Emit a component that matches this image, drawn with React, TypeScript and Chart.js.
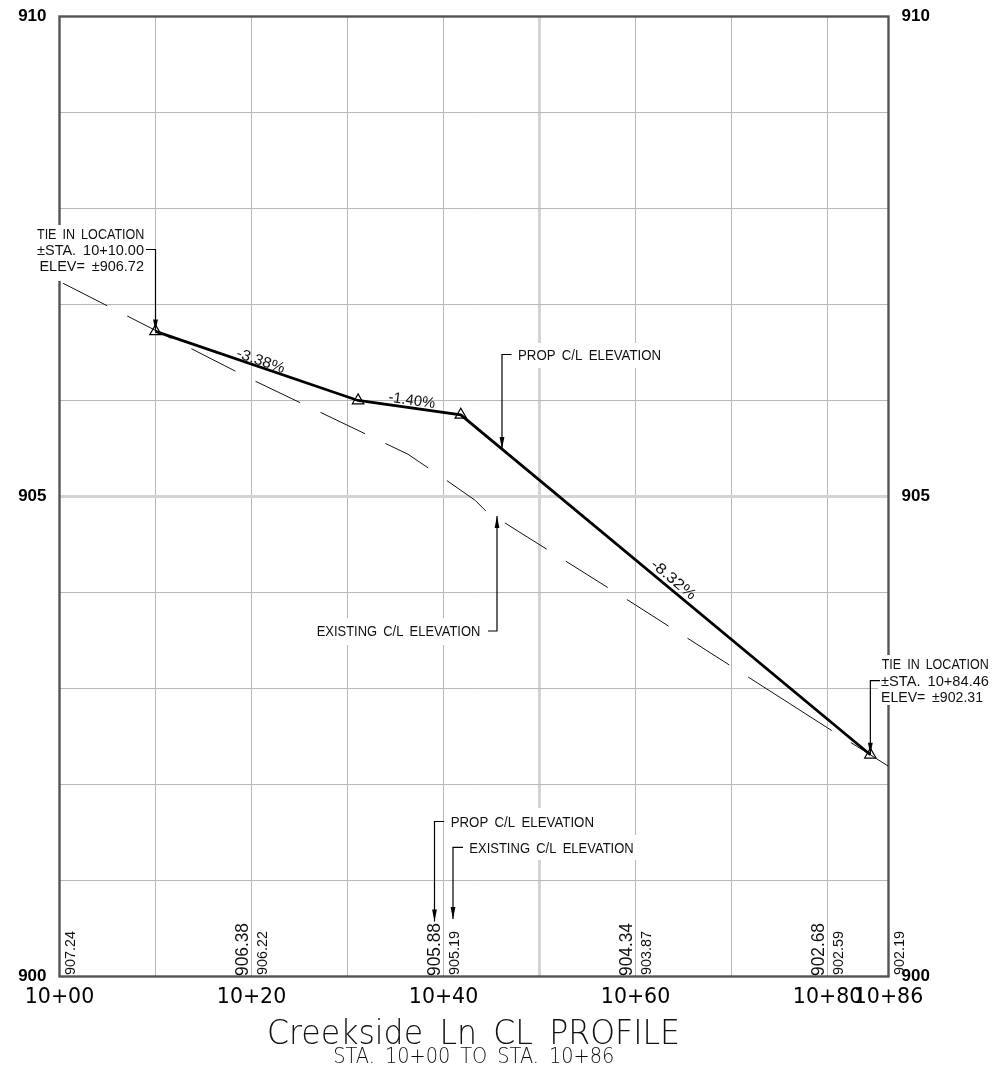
import React, { useEffect, useRef } from "react";
import { Chart, registerables } from "chart.js";

Chart.register(...registerables);

// ---- data ----
const stationGrid = [0, 10, 20, 30, 40, 50, 60, 70, 80, 86.35];
const stationLabels = ["10+00", "", "10+20", "", "10+40", "", "10+60", "", "10+80", "10+86"];
const elevationGrid = [900, 901, 902, 903, 904, 905, 906, 907, 908, 909, 910];
const elevationLabels = ["900", "", "", "", "", "905", "", "", "", "", "910"];

const propStations = [10, 31.1, 41.8, 84.46];
const propElevations = [906.72, 906.0, 905.85, 902.31];

// the existing ground line is two runs: its dash pattern restarts near station 76
const existingStationsA = [0, 20, 36.3, 40, 43.3, 44.4, 60, 76.1];
const existingElevationsA = [907.24, 906.22, 905.44, 905.19, 904.96, 904.85, 903.87, 902.84];
const existingStationsB = [76.1, 80, 86.35];
const existingElevationsB = [902.84, 902.59, 902.19];

const propTableStations = [20, 40, 60, 80];
const propTableValues = ["906.38", "905.88", "904.34", "902.68"];
const existingTableStations = [0, 20, 40, 60, 80, 86.35];
const existingTableValues = ["907.24", "906.22", "905.19", "903.87", "902.59", "902.19"];

const gradeLabels = ["-3.38%", "-1.40%", "-8.32%"];

const TITLE = "Creekside Ln CL PROFILE";
const SUBTITLE = "STA. 10+00 TO STA. 10+86";

// ---- drawing helpers ----
const FONT = "'Liberation Sans'";
const INK = "#111";

type Ctx = CanvasRenderingContext2D;

function fitText(ctx: Ctx, text: string, x: number, y: number, width: number, size: number, rot = 0, font = `${size}px ${FONT}`) {
  ctx.save();
  ctx.font = font;
  (ctx as any).wordSpacing = `${size * 0.2}px`;
  ctx.textAlign = "left";
  ctx.textBaseline = "alphabetic";
  ctx.fillStyle = INK;
  const m = ctx.measureText(text).width;
  ctx.translate(x, y);
  ctx.rotate(rot);
  ctx.scale(width / m, 1);
  ctx.fillText(text, -m / 2, size * 0.36);
  ctx.restore();
}

function leader(ctx: Ctx, pts: [number, number][]) {
  ctx.save();
  ctx.strokeStyle = "#000";
  ctx.lineWidth = 1.2;
  ctx.beginPath();
  pts.forEach((p, i) => (i ? ctx.lineTo(p[0], p[1]) : ctx.moveTo(p[0], p[1])));
  ctx.stroke();
  const [tx, ty] = pts[pts.length - 1];
  const [, py] = pts[pts.length - 2];
  const dir = ty > py ? 1 : -1;
  ctx.fillStyle = "#000";
  ctx.beginPath();
  ctx.moveTo(tx, ty);
  ctx.lineTo(tx - 2.4, ty - dir * 12);
  ctx.lineTo(tx + 2.4, ty - dir * 12);
  ctx.closePath();
  ctx.fill();
  ctx.restore();
}

const masks = [
  [33, 225, 115, 56],
  [514, 343, 151, 25],
  [312, 618, 172, 27],
  [447, 808, 153, 27],
  [465, 835, 173, 25],
  [878, 655, 114, 50],
];

const profilePlugin = {
  id: "profile",
  beforeDatasetsDraw(chart: any) {
    const { ctx, chartArea: a } = chart;
    ctx.save();
    ctx.strokeStyle = "#555";
    ctx.lineWidth = 2.4;
    ctx.strokeRect(a.left, a.top, a.right - a.left, a.bottom - a.top);
    ctx.fillStyle = "#fff";
    masks.forEach((m) => ctx.fillRect(m[0], m[1], m[2], m[3]));
    ctx.restore();
  },
  afterDatasetsDraw(chart: any) {
    const { ctx, scales } = chart;
    const X = (v: number) => scales.x.getPixelForValue(v);
    const Y = (v: number) => scales.y.getPixelForValue(v);
    const bottom = chart.chartArea.bottom;

    // rotated table values along the foot of the plot
    propTableStations.forEach((s, i) => {
      fitText(ctx, propTableValues[i], X(s) - 10, bottom - 27, 53, 18, -Math.PI / 2);
    });
    existingTableStations.forEach((s, i) => {
      fitText(ctx, existingTableValues[i], X(s) + 10, bottom - 23.5, 44, 15, -Math.PI / 2);
    });

    // grade labels, turned to the slope of their segment
    const gradePos: [number, number, number][] = [[261, 360, 50], [412, 399.5, 47], [674, 579, 54]];
    gradeLabels.forEach((t, i) => {
      const dx = X(propStations[i + 1]) - X(propStations[i]);
      const dy = Y(propElevations[i + 1]) - Y(propElevations[i]);
      fitText(ctx, t, gradePos[i][0], gradePos[i][1], gradePos[i][2], 15, Math.atan2(dy, dx));
    });

    // left tie-in note
    fitText(ctx, "TIE IN LOCATION", 90.7, 233.5, 107.5, 15);
    fitText(ctx, "±STA. 10+10.00", 90.5, 249.5, 107, 15);
    fitText(ctx, "ELEV= ±906.72", 91.7, 266, 104.5, 15);
    leader(ctx, [[146, 249.5], [X(propStations[0]), 249.5], [X(propStations[0]), Y(propElevations[0])]]);

    // right tie-in note
    fitText(ctx, "TIE IN LOCATION", 935.2, 664, 107, 15);
    fitText(ctx, "±STA. 10+84.46", 935, 680.7, 108, 15);
    fitText(ctx, "ELEV= ±902.31", 932, 697, 102, 15);
    leader(ctx, [[880, 680.7], [X(propStations[3]), 680.7], [X(propStations[3]), Y(propElevations[3])]]);

    // mid-plot notes
    fitText(ctx, "PROP C/L ELEVATION", 589.5, 355, 143, 15);
    leader(ctx, [[511.5, 354.5], [502, 354.5], [502, 449]]);
    fitText(ctx, "EXISTING C/L ELEVATION", 398.5, 631, 163.6, 15);
    leader(ctx, [[488, 631], [497, 631], [497, 516]]);

    // notes above the table
    fitText(ctx, "PROP C/L ELEVATION", 522.3, 821.7, 143.3, 15);
    leader(ctx, [[444, 821.5], [434.5, 821.5], [434.5, 921.5]]);
    fitText(ctx, "EXISTING C/L ELEVATION", 551.5, 847.3, 164.4, 15);
    leader(ctx, [[463, 847.3], [453, 847.3], [453, 919]]);

    // title block
    fitText(ctx, TITLE, 473.5, 1032, 413, 33, 0, "200 33px 'DejaVu Sans'");
    fitText(ctx, SUBTITLE, 473.8, 1055.5, 281, 21, 0, "200 21px 'DejaVu Sans'");
  },
};

export default function App() {
  const ref = useRef<HTMLCanvasElement>(null);
  useEffect(() => {
    document.body.style.margin = "0";
    const chart = new Chart(ref.current as HTMLCanvasElement, {
      type: "scatter",
      data: {
        datasets: [
          {
            label: "EXISTING C/L ELEVATION",
            data: existingStationsA.map((s, i) => ({ x: s, y: existingElevationsA[i] })),
            showLine: true,
            borderColor: "#111",
            borderWidth: 1,
            borderDash: [49.5, 22.5],
            borderDashOffset: -4,
            pointRadius: 0,
            tension: 0,
          },
          {
            label: "EXISTING C/L ELEVATION (end run)",
            data: existingStationsB.map((s, i) => ({ x: s, y: existingElevationsB[i] })),
            showLine: true,
            borderColor: "#111",
            borderWidth: 1,
            borderDash: [49.5, 22.5],
            pointRadius: 0,
            tension: 0,
          },
          {
            label: "PROP C/L ELEVATION",
            data: propStations.map((s, i) => ({ x: s, y: propElevations[i] })),
            showLine: true,
            borderColor: "#000",
            borderWidth: 2.8,
            pointStyle: "triangle",
            pointRadius: 6.6,
            pointBorderWidth: 1.2,
            pointBorderColor: "#000",
            pointBackgroundColor: "rgba(255,255,255,0)",
            tension: 0,
          },
        ],
      },
      options: {
        responsive: false,
        animation: false,
        devicePixelRatio: 1,
        layout: { padding: { top: 16.5, left: 0, right: 0, bottom: 0 } },
        plugins: { legend: { display: false }, tooltip: { enabled: false }, title: { display: false } },
        scales: {
          x: {
            type: "linear",
            min: 0,
            max: 86.35,
            afterFit: (s: any) => { s.height = 94.5; },
            afterBuildTicks: (s: any) => { s.ticks = stationGrid.map((v) => ({ value: v })); },
            grid: {
              drawTicks: false,
              color: (c: any) => (c.tick && c.tick.value === 50 ? "#d4d4d4" : "#b8b8b8"),
              lineWidth: (c: any) => (c.tick && c.tick.value === 50 ? 3 : 1),
            },
            border: { display: false },
            ticks: {
              autoSkip: false,
              maxRotation: 0,
              padding: 9,
              color: "#000",
              font: { family: "'DejaVu Sans'", size: 20.5 },
              callback: (v: any) => stationLabels[stationGrid.indexOf(v)] ?? "",
            },
          },
          y: {
            type: "linear",
            position: "left",
            min: 900,
            max: 910,
            afterFit: (s: any) => { s.width = 59.5; s.paddingTop = 0; s.paddingBottom = 0; },
            afterBuildTicks: (s: any) => { s.ticks = elevationGrid.map((v) => ({ value: v })); },
            grid: {
              drawTicks: false,
              color: (c: any) => (c.tick && c.tick.value === 905 ? "#d4d4d4" : "#b8b8b8"),
              lineWidth: (c: any) => (c.tick && c.tick.value === 905 ? 3 : 1),
            },
            border: { display: false },
            ticks: {
              autoSkip: false,
              padding: 13,
              color: "#000",
              font: { family: FONT, size: 17, weight: "bold" },
              callback: (v: any) => elevationLabels[elevationGrid.indexOf(v)] ?? "",
            },
          },
          y2: {
            type: "linear",
            position: "right",
            min: 900,
            max: 910,
            afterFit: (s: any) => { s.width = 104.5; s.paddingTop = 0; s.paddingBottom = 0; },
            afterBuildTicks: (s: any) => { s.ticks = elevationGrid.map((v) => ({ value: v })); },
            grid: { display: false, drawTicks: false },
            border: { display: false },
            ticks: {
              autoSkip: false,
              padding: 13,
              color: "#000",
              font: { family: FONT, size: 17, weight: "bold" },
              callback: (v: any) => elevationLabels[elevationGrid.indexOf(v)] ?? "",
            },
          },
        },
      } as any,
      plugins: [profilePlugin as any],
    });
    return () => chart.destroy();
  }, []);
  return (
    <div style={{ width: 993, height: 1071, background: "#fff" }}>
      <canvas ref={ref} width={993} height={1071} style={{ display: "block", width: 993, height: 1071 }} />
    </div>
  );
}
